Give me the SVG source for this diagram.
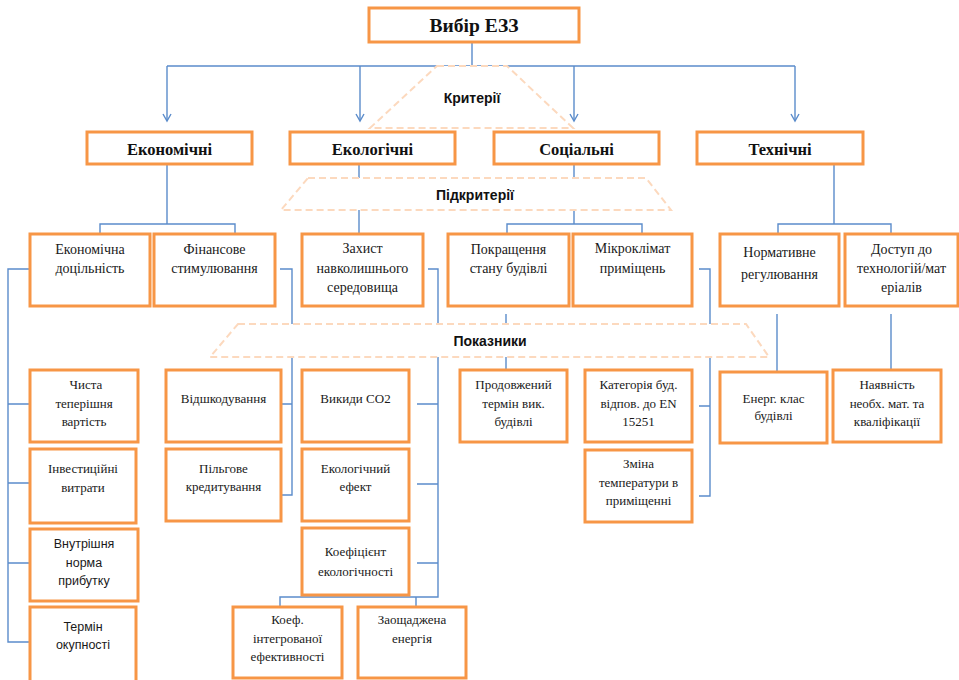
<svg xmlns="http://www.w3.org/2000/svg" width="959" height="680" viewBox="0 0 959 680">
<style>
.box{fill:#fff;stroke:#F79646;stroke-width:3}
.ln{fill:none;stroke:#5B8CCB;stroke-width:1.4}
.band{fill:#fff;stroke:#FCD9BE;stroke-width:2;stroke-dasharray:7 4}
.t{font-family:"Liberation Serif","Times New Roman",serif;font-size:14px;fill:#1a1a1a;text-anchor:middle}
.s{font-family:"Liberation Serif","Times New Roman",serif;font-size:13px;fill:#1a1a1a;text-anchor:middle}
.ss{font-family:"Liberation Sans",Arial,sans-serif;font-size:12.5px;fill:#1a1a1a;text-anchor:middle}
.b{font-family:"Liberation Serif","Times New Roman",serif;font-weight:bold;font-size:16.5px;fill:#111;text-anchor:middle}
.lab{font-family:"Liberation Sans",Arial,sans-serif;font-weight:bold;font-size:14px;fill:#111;text-anchor:middle}
</style>
<defs>
<marker id="arr" markerWidth="10" markerHeight="10" refX="8" refY="5" orient="auto" markerUnits="userSpaceOnUse">
<path d="M1,1 L8,5 L1,9" fill="none" stroke="#5B8CCB" stroke-width="1.4"/>
</marker>
</defs>
<rect width="959" height="680" fill="#fff"/>
<g id="connectors">
<path class="ln" d="M472,42 V66 M167,66 H795"/>
<path class="ln" d="M167,66 V121" marker-end="url(#arr)"/>
<path class="ln" d="M360,66 V121" marker-end="url(#arr)"/>
<path class="ln" d="M574,66 V121" marker-end="url(#arr)"/>
<path class="ln" d="M795,66 V121" marker-end="url(#arr)"/>
<path class="ln" d="M167,164 V224 M100,234 V224 H235 V234"/>
<path class="ln" d="M359,164 V234"/>
<path class="ln" d="M574,164 V224 M507,234 V224 H642 V234"/>
<path class="ln" d="M834,164 V224 M778,234 V224 H891 V234"/>
<path class="ln" d="M30,269 H8 V642 H30 M8,404 H30 M8,483 H30 M8,563 H30"/>
<path class="ln" d="M280,269 H292 V495 H281 M281,404 H292"/>
<path class="ln" d="M428,269 H438 V597 H280 V607 M416,597 V607 M417,404 H438 M417,484 H438 M417,563 H438"/>
<path class="ln" d="M506,314 V370"/>
<path class="ln" d="M699,269 H710 V496 H699 M699,406 H710"/>
<path class="ln" d="M777,314 V372"/>
<path class="ln" d="M891,314 V370"/>
</g>
<g id="bands">
<polygon class="band" points="437,66 507,66 573,128 370,128"/>
<text class="lab" x="472" y="103">Критерії</text>
<polygon class="band" points="308,178 646,178 671,210 281,210"/>
<text class="lab" x="475" y="200">Підкритерії</text>
<polygon class="band" points="238,324 746,324 769,357 210,357"/>
<text class="lab" x="490" y="346">Показники</text>
</g>
<g id="root"><rect class="box" x="369" y="8" width="210" height="34"/><text class="b" x="474" y="32" style="font-size:19.5px">Вибір ЕЗЗ</text></g>
<g id="c_econ"><rect class="box" x="87" y="132" width="165" height="32"/><text class="b" x="169.5" y="155">Економічні</text></g>
<g id="c_ecol"><rect class="box" x="290" y="132" width="165" height="32"/><text class="b" x="372.5" y="155">Екологічні</text></g>
<g id="c_soc"><rect class="box" x="494" y="132" width="165" height="32"/><text class="b" x="576.5" y="155">Соціальні</text></g>
<g id="c_tech"><rect class="box" x="697" y="132" width="166" height="32"/><text class="b" x="780" y="155">Технічні</text></g>
<g id="s_ed"><rect class="box" x="30" y="234" width="120" height="72"/><text class="t" x="90" y="254">Економічна</text><text class="t" x="90" y="273">доцільність</text></g>
<g id="s_fs"><rect class="box" x="154" y="234" width="121" height="72"/><text class="t" x="214.5" y="254">Фінансове</text><text class="t" x="214.5" y="273">стимулювання</text></g>
<g id="s_zn"><rect class="box" x="302" y="234" width="121" height="72"/><text class="t" x="362.5" y="253">Захист</text><text class="t" x="362.5" y="273">навколишнього</text><text class="t" x="362.5" y="292">середовища</text></g>
<g id="s_ps"><rect class="box" x="448" y="234" width="121" height="72"/><text class="t" x="508.5" y="254">Покращення</text><text class="t" x="508.5" y="273">стану будівлі</text></g>
<g id="s_mp"><rect class="box" x="573" y="234" width="119" height="72"/><text class="t" x="632.5" y="253">Мікроклімат</text><text class="t" x="632.5" y="273">приміщень</text></g>
<g id="s_nr"><rect class="box" x="720" y="234" width="119" height="72"/><text class="t" x="779.5" y="257">Нормативне</text><text class="t" x="779.5" y="279">регулювання</text></g>
<g id="s_dt"><rect class="box" x="845" y="234" width="113" height="72"/><text class="t" x="901.5" y="254">Доступ до</text><text class="t" x="901.5" y="273">технологій/мат</text><text class="t" x="901.5" y="292">еріалів</text></g>
<g id="i_npv"><rect class="box" x="30" y="370" width="108" height="72"/><text class="s" x="86" y="389">Чиста</text><text class="s" x="84" y="408">теперішня</text><text class="s" x="84" y="426">вартість</text></g>
<g id="i_inv"><rect class="box" x="30" y="449" width="106" height="74"/><text class="s" x="83" y="473">Інвестиційні</text><text class="s" x="83" y="492">витрати</text></g>
<g id="i_irr"><rect class="box" x="30" y="529" width="108" height="72"/><text class="ss" x="84" y="548">Внутрішня</text><text class="ss" x="84" y="567">норма</text><text class="ss" x="84" y="585">прибутку</text></g>
<g id="i_pb"><rect class="box" x="30" y="607" width="106" height="76"/><text class="ss" x="83" y="631">Термін</text><text class="ss" x="83" y="649">окупності</text></g>
<g id="i_comp"><rect class="box" x="166" y="370" width="115" height="72"/><text class="s" x="223.5" y="403">Відшкодування</text></g>
<g id="i_cred"><rect class="box" x="166" y="449" width="115" height="72"/><text class="s" x="223.5" y="473">Пільгове</text><text class="s" x="223.5" y="491">кредитування</text></g>
<g id="i_co2"><rect class="box" x="302" y="370" width="107" height="72"/><text class="s" x="355.5" y="403">Викиди CO2</text></g>
<g id="i_eff"><rect class="box" x="302" y="449" width="107" height="72"/><text class="s" x="355.5" y="473">Екологічний</text><text class="s" x="355.5" y="491">ефект</text></g>
<g id="i_coef"><rect class="box" x="302" y="528" width="107" height="67"/><text class="s" x="355.5" y="556">Коефіцієнт</text><text class="s" x="355.5" y="576">екологічності</text></g>
<g id="i_kie"><rect class="box" x="233" y="607" width="109" height="71"/><text class="s" x="287.5" y="624">Коеф.</text><text class="s" x="287.5" y="643">інтегрованої</text><text class="s" x="287.5" y="661">ефективності</text></g>
<g id="i_save"><rect class="box" x="358" y="607" width="108" height="71"/><text class="s" x="412" y="624">Заощаджена</text><text class="s" x="412" y="643">енергія</text></g>
<g id="i_life"><rect class="box" x="460" y="370" width="107" height="72"/><text class="s" x="513.5" y="389">Продовжений</text><text class="s" x="513.5" y="408">термін вик.</text><text class="s" x="513.5" y="426">будівлі</text></g>
<g id="i_cat"><rect class="box" x="585" y="370" width="107" height="72"/><text class="s" x="638.5" y="389">Категорія буд.</text><text class="s" x="638.5" y="408">відпов. до EN</text><text class="s" x="638.5" y="426">15251</text></g>
<g id="i_temp"><rect class="box" x="585" y="450" width="107" height="72"/><text class="s" x="638.5" y="468">Зміна</text><text class="s" x="638.5" y="487">температури в</text><text class="s" x="638.5" y="505">приміщенні</text></g>
<g id="i_class"><rect class="box" x="720" y="372" width="107" height="71"/><text class="s" x="773.5" y="403">Енерг. клас</text><text class="s" x="773.5" y="420">будівлі</text></g>
<g id="i_avail"><rect class="box" x="833" y="370" width="108" height="72"/><text class="s" x="887" y="389">Наявність</text><text class="s" x="887" y="408">необх. мат. та</text><text class="s" x="887" y="426">кваліфікації</text></g>
</svg>
